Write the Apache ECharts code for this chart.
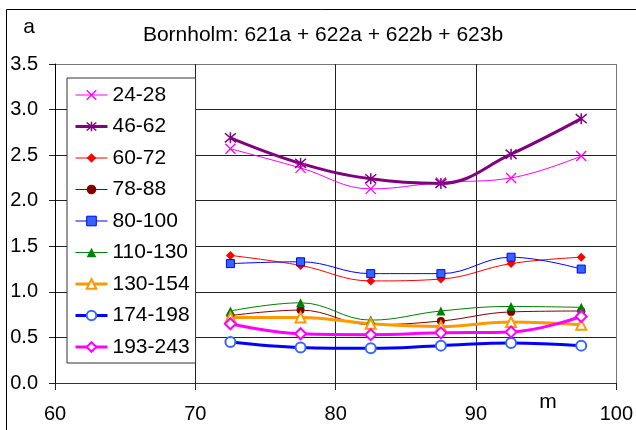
<!DOCTYPE html>
<html>
<head>
<meta charset="utf-8">
<script src="https://cdn.jsdelivr.net/npm/echarts@6/dist/echarts.min.js"></script>
<style>
html,body{margin:0;padding:0;background:#fff;}
#chart{width:636px;height:430px;}
</style>
</head>
<body>
<div id="chart"></div>
<script>
// ---- data ----
var xValues = [72.5, 77.5, 82.5, 87.5, 92.5, 97.5];
var seriesNames = ['24-28', '46-62', '60-72', '78-88', '80-100', '110-130', '130-154', '174-198', '193-243'];
var s24_28   = [2.57, 2.36, 2.13, 2.20, 2.25, 2.49];
var s46_62   = [2.69, 2.41, 2.24, 2.19, 2.51, 2.90];
var s60_72   = [1.40, 1.29, 1.12, 1.14, 1.31, 1.38];
var s78_88   = [0.74, 0.80, 0.64, 0.68, 0.78, 0.79];
var s80_100  = [1.31, 1.33, 1.20, 1.20, 1.38, 1.25];
var s110_130 = [0.79, 0.88, 0.69, 0.79, 0.84, 0.83];
var s130_154 = [0.72, 0.72, 0.65, 0.62, 0.67, 0.64];
var s174_198 = [0.45, 0.39, 0.38, 0.41, 0.44, 0.41];
var s193_243 = [0.65, 0.54, 0.53, 0.55, 0.56, 0.73];
var xTicks = [60, 70, 80, 90, 100];
var yTicks = [0.0, 0.5, 1.0, 1.5, 2.0, 2.5, 3.0, 3.5];
var titleText = 'Bornholm: 621a + 622a + 622b + 623b';
var yAxisName = 'a';
var xAxisName = 'm';

var seriesValues = [s24_28, s46_62, s60_72, s78_88, s80_100, s110_130, s130_154, s174_198, s193_243];

// ---- styles ----
var FONT = '"Liberation Sans", Arial, sans-serif';
var styles = [
  {line: '#FF00FF', w: 1, sym: 'path://M0,0L10,10M10,0L0,10', size: 10, fill: '#FF00FF', border: '#FF00FF', bw: 1.3},
  {line: '#800080', w: 3, sym: 'path://M0,0L10,10M10,0L0,10M5,-1L5,11', size: 11, fill: '#800080', border: '#800080', bw: 1.5},
  {line: '#FF0000', w: 1, sym: 'diamond', size: 9, fill: '#FF0000', border: '#FF0000', bw: 0},
  {line: '#800000', w: 1, sym: 'circle', size: 8, fill: '#800000', border: '#800000', bw: 0},
  {line: '#0000FF', w: 1, sym: 'rect', size: 8, fill: '#3366FF', border: '#0000FF', bw: 1},
  {line: '#008000', w: 1, sym: 'triangle', size: 9, fill: '#008000', border: '#008000', bw: 0},
  {line: '#FF9900', w: 3, sym: 'emptyTriangle', size: 10, fill: '#FF9900', border: '#FF9900', bw: 1.5},
  {line: '#0000FF', w: 3, sym: 'emptyCircle', size: 10, fill: '#3366FF', border: '#3366FF', bw: 1.5},
  {line: '#FF00FF', w: 3, sym: 'emptyDiamond', size: 11, fill: '#FF00FF', border: '#FF00FF', bw: 1.5}
];

var series = seriesNames.map(function (name, i) {
  var st = styles[i];
  return {
    name: name,
    type: 'line',
    smooth: 0.4,
    data: xValues.map(function (x, j) { return [x, seriesValues[i][j]]; }),
    symbol: st.sym,
    symbolSize: st.size,
    showSymbol: true,
    lineStyle: {color: st.line, width: st.w},
    itemStyle: {color: st.fill, borderColor: st.border, borderWidth: st.bw},
    emphasis: {disabled: true},
    animation: false
  };
});

var legendData = seriesNames.map(function (name, i) {
  var st = styles[i];
  return {
    name: name,
    lineStyle: {color: st.line, width: st.w},
    itemStyle: {color: st.fill, borderColor: st.border, borderWidth: st.bw}
  };
});

var chart = echarts.init(document.getElementById('chart'), null, {renderer: 'canvas'});
chart.setOption({
  backgroundColor: '#fff',
  animation: false,
  grid: {left: 55, right: 16, top: 64, bottom: 47, containLabel: false},
  xAxis: {
    type: 'value', min: xTicks[0], max: xTicks[xTicks.length - 1], interval: 10,
    axisLine: {show: true, onZero: false, lineStyle: {color: '#333', width: 1}},
    axisTick: {show: true, inside: false, length: 7, lineStyle: {color: '#222'}},
    axisLabel: {fontSize: 20, fontFamily: FONT, color: '#000', margin: 21},
    splitLine: {show: true, lineStyle: {color: ['#222', '#222', '#222', '#222', '#777']}}
  },
  yAxis: {
    type: 'value', min: yTicks[0], max: yTicks[yTicks.length - 1], interval: 0.5,
    axisLine: {show: true, lineStyle: {color: '#000', width: 1}},
    axisTick: {show: true, inside: false, length: 6, lineStyle: {color: '#222'}},
    axisLabel: {fontSize: 20, fontFamily: FONT, color: '#000', margin: 17,
      formatter: function (v) { return v.toFixed(1); }},
    splitLine: {show: true, lineStyle: {color: ['#222', '#222', '#222', '#222', '#222', '#222', '#222', '#777']}}
  },
  legend: {
    show: true,
    orient: 'vertical',
    left: 67, top: 78,
    padding: [6, 6, 5, 7],
    itemWidth: 32, itemHeight: 12, itemGap: 9.5,
    backgroundColor: '#fff',
    borderColor: '#333', borderWidth: 1,
    textStyle: {fontSize: 21, fontFamily: FONT, color: '#000', lineHeight: 22},
    data: legendData
  },
  graphic: [
    {type: 'rect', shape: {x: 6.5, y: 9.5, width: 800, height: 600}, style: {fill: 'none', stroke: '#000', lineWidth: 1}, silent: true, z: -10},
    {type: 'text', x: 323, y: 35, style: {text: titleText, font: '21px ' + FONT, fill: '#000', textAlign: 'center', textVerticalAlign: 'middle'}},
    {type: 'text', x: 29, y: 27, style: {text: yAxisName, font: '21px ' + FONT, fill: '#000', textAlign: 'center', textVerticalAlign: 'middle'}},
    {type: 'text', x: 548, y: 402, style: {text: xAxisName, font: '21px ' + FONT, fill: '#000', textAlign: 'center', textVerticalAlign: 'middle'}}
  ],
  series: series
});
</script>
</body>
</html>
